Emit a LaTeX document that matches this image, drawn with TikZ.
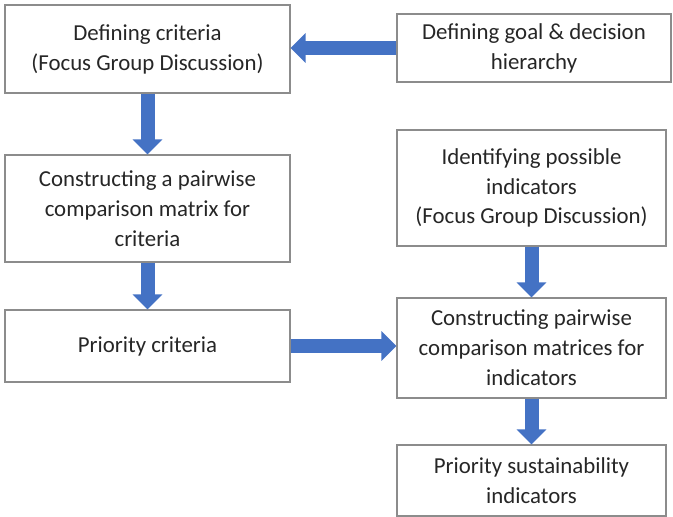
\documentclass[tikz,border=0pt]{standalone}
\usepackage{fontspec}
\setmainfont{Carlito}
\usetikzlibrary{arrows.meta}

\definecolor{flowblue}{HTML}{4472C4}
\definecolor{boxgray}{HTML}{8C8C8C}
\tikzset{
  stepbox/.style={draw=boxgray, line width=0.6pt, align=center, inner sep=2pt,
    text=black!85, font=\fontsize{13}{17}\selectfont},
  bigarrow/.style={draw=flowblue, line width=0.28cm,
    -{Triangle[width=0.58cm,length=0.3cm]}}
}

\begin{document}
\begin{tikzpicture}
    \path[use as bounding box] (0,0) rectangle (13.46,-10.32);
    % Left column.
    \node[stepbox, minimum width=5.7cm, minimum height=1.76cm] (crit) at (2.95,-0.98)
      {Defining criteria\\(Focus Group Discussion)};
    \node[stepbox, minimum width=5.7cm, minimum height=2.14cm] (pairc) at (2.95,-4.17)
      {Constructing a pairwise\\comparison matrix for\\criteria};
    \node[stepbox, minimum width=5.7cm, minimum height=1.44cm] (prio) at (2.95,-6.92)
      {Priority criteria};
    % Right column.
    \node[stepbox, minimum width=5.48cm, minimum height=1.36cm] (goal) at (10.68,-0.96)
      {Defining goal \& decision\\hierarchy};
    \node[stepbox, minimum width=5.38cm, minimum height=2.32cm] (ident) at (10.63,-3.76)
      {Identifying possible\\indicators\\(Focus Group Discussion)};
    \node[stepbox, minimum width=5.38cm, minimum height=2.0cm] (pairi) at (10.63,-6.96)
      {Constructing pairwise\\comparison matrices for\\indicators};
    \node[stepbox, minimum width=5.38cm, minimum height=1.42cm] (sust) at (10.63,-9.61)
      {Priority sustainability\\indicators};
    % Arrows.
    \draw[bigarrow] (goal.west) -- (goal.west -| crit.east);
    \draw[bigarrow] (crit.south) -- (pairc.north);
    \draw[bigarrow] (pairc.south) -- (prio.north);
    \draw[bigarrow] (ident.south) -- (pairi.north);
    \draw[bigarrow] (prio.east) -- (prio.east -| pairi.west);
    \draw[bigarrow] (pairi.south) -- (sust.north);
\end{tikzpicture}
\end{document}
